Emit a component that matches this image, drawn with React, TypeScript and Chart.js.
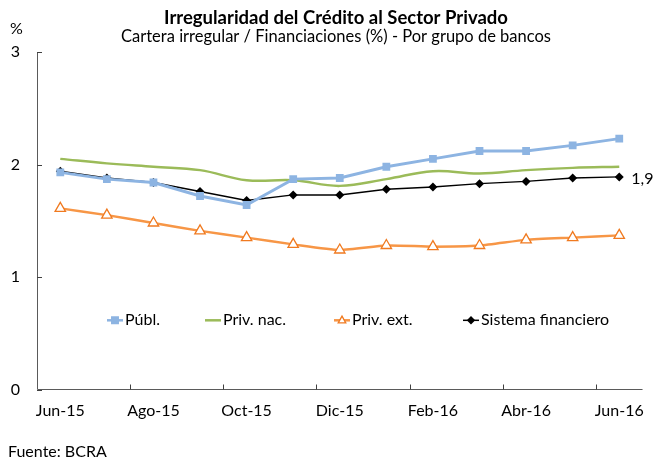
import React, { useEffect, useRef } from 'react';
import { Chart, registerables } from 'chart.js';
Chart.register(...registerables);

const months = ['Jun-15', 'Jul-15', 'Ago-15', 'Sep-15', 'Oct-15', 'Nov-15', 'Dic-15', 'Ene-16', 'Feb-16', 'Mar-16', 'Abr-16', 'May-16', 'Jun-16'];
const publ = [1.93, 1.87, 1.84, 1.72, 1.64, 1.87, 1.88, 1.98, 2.05, 2.12, 2.12, 2.17, 2.23];
const privNac = [2.05, 2.01, 1.98, 1.95, 1.86, 1.86, 1.81, 1.87, 1.94, 1.92, 1.95, 1.97, 1.98];
const privExt = [1.61, 1.55, 1.48, 1.41, 1.35, 1.29, 1.24, 1.28, 1.27, 1.28, 1.33, 1.35, 1.37];
const sistema = [1.94, 1.88, 1.84, 1.76, 1.68, 1.73, 1.73, 1.78, 1.80, 1.83, 1.85, 1.88, 1.89];
const yTickValues = [0, 1, 2, 3];
const seriesNames = ['Públ.', 'Priv. nac.', 'Priv. ext.', 'Sistema financiero'];
const lastLabel = '1,9';
const titleText = 'Irregularidad del Crédito al Sector Privado';
const subtitleText = 'Cartera irregular / Financiaciones (%) - Por grupo de bancos';
const unitText = '%';
const sourceText = 'Fuente: BCRA';

const FONT = 'Lato, "Open Sans", sans-serif';

const decorPlugin = {
  id: 'decor',
  afterDraw(chart: any) {
    const ctx = chart.ctx as CanvasRenderingContext2D;
    const ca = chart.chartArea;
    const xs = chart.scales.x;
    const ys = chart.scales.y;
    ctx.save();
    // axes
    ctx.strokeStyle = '#5a5a5a';
    ctx.lineWidth = 1;
    ctx.beginPath();
    ctx.moveTo(ca.left + 0.5, ca.top);
    ctx.lineTo(ca.left + 0.5, ca.bottom);
    ctx.lineTo(ca.right, ca.bottom);
    ctx.stroke();
    // y ticks (inward)
    ctx.strokeStyle = '#404040';
    yTickValues.forEach((v) => {
      const y = Math.round(ys.getPixelForValue(v)) + 0.5;
      ctx.beginPath();
      ctx.moveTo(ca.left, y);
      ctx.lineTo(ca.left + 5, y);
      ctx.stroke();
    });
    // x ticks at category boundaries every 2 categories
    for (let i = 2; i < months.length; i += 2) {
      const x = Math.round((xs.getPixelForValue(i - 1) + xs.getPixelForValue(i)) / 2) + 0.5;
      ctx.beginPath();
      ctx.moveTo(x, ca.bottom);
      ctx.lineTo(x, ca.bottom - 5);
      ctx.stroke();
    }
    // titles
    ctx.fillStyle = '#000';
    ctx.textAlign = 'center';
    ctx.textBaseline = 'middle';
    ctx.font = `bold 18.5px ${FONT}`;
    ctx.fillText(titleText, 336, 18);
    ctx.font = `16.5px ${FONT}`;
    ctx.fillText(subtitleText, 336, 37);
    ctx.font = `16px ${FONT}`;
    ctx.textAlign = 'left';
    ctx.fillText(unitText, 10, 29);
    ctx.fillText(sourceText, 8, 452);
    // last value label
    const meta = chart.getDatasetMeta(3);
    const lastPt = meta.data[meta.data.length - 1];
    ctx.fillText(lastLabel, lastPt.x + 12, lastPt.y + 2);
    // legend
    const ly = ca.top + (ca.bottom - ca.top) * 0.795;
    const starts = [107, 205, 334, 463];
    chart.data.datasets.forEach((ds: any, i: number) => {
      const x0 = starts[i];
      ctx.strokeStyle = ds.borderColor;
      ctx.lineWidth = Math.min(ds.borderWidth, 2.5);
      ctx.beginPath();
      ctx.moveTo(x0, ly);
      ctx.lineTo(x0 + 16, ly);
      ctx.stroke();
      if (ds.pointStyle && ds.pointRadius > 0) {
        ctx.fillStyle = ds.pointBackgroundColor;
        ctx.strokeStyle = ds.pointBorderColor;
        ctx.lineWidth = ds.pointBorderWidth;
        const r = ds.pointRadius * 0.7;
        ctx.beginPath();
        if (ds.pointStyle === 'rect') {
          const s = r * Math.SQRT1_2;
          ctx.rect(x0 + 8 - s, ly - s, 2 * s, 2 * s);
        } else if (ds.pointStyle === 'rectRot') {
          ctx.moveTo(x0 + 8 - r, ly);
          ctx.lineTo(x0 + 8, ly - r);
          ctx.lineTo(x0 + 8 + r, ly);
          ctx.lineTo(x0 + 8, ly + r);
          ctx.closePath();
        } else if (ds.pointStyle === 'triangle') {
          ctx.moveTo(x0 + 8, ly - r);
          ctx.lineTo(x0 + 8 + r * 0.9, ly + r * 0.6);
          ctx.lineTo(x0 + 8 - r * 0.9, ly + r * 0.6);
          ctx.closePath();
        }
        ctx.fill();
        ctx.stroke();
      }
      ctx.fillStyle = '#000';
      ctx.font = `16px ${FONT}`;
      ctx.textAlign = 'left';
      ctx.textBaseline = 'middle';
      ctx.fillText(seriesNames[i], x0 + 18, ly);
    });
    ctx.restore();
  },
};

export default function App() {
  const ref = useRef<HTMLCanvasElement | null>(null);
  useEffect(() => {
    document.body.style.margin = '0';
    const canvas = ref.current;
    if (!canvas) return;
    const chart = new Chart(canvas, {
      type: 'line',
      data: {
        labels: months,
        datasets: [
          {
            label: seriesNames[0],
            data: publ,
            borderColor: '#8db4e2',
            backgroundColor: '#8db4e2',
            borderWidth: 3,
            pointStyle: 'rect',
            pointRadius: 5.5,
            pointBackgroundColor: '#8db4e2',
            pointBorderColor: '#8db4e2',
            pointBorderWidth: 0,
            tension: 0,
          },
          {
            label: seriesNames[1],
            data: privNac,
            borderColor: '#9bbb59',
            backgroundColor: '#9bbb59',
            borderWidth: 2.5,
            pointStyle: false,
            pointRadius: 0,
            tension: 0.4,
          },
          {
            label: seriesNames[2],
            data: privExt,
            borderColor: '#f79646',
            backgroundColor: '#ffffff',
            borderWidth: 2.5,
            pointStyle: 'triangle',
            pointRadius: 6,
            pointBackgroundColor: '#ffffff',
            pointBorderColor: '#f07a20',
            pointBorderWidth: 1.3,
            tension: 0.2,
          },
          {
            label: seriesNames[3],
            data: sistema,
            borderColor: '#000000',
            backgroundColor: '#000000',
            borderWidth: 1.5,
            pointStyle: 'rectRot',
            pointRadius: 4.5,
            pointBackgroundColor: '#000000',
            pointBorderColor: '#000000',
            pointBorderWidth: 0,
            tension: 0,
          },
        ],
      },
      options: {
        responsive: false,
        animation: false,
        layout: { padding: { top: 52, right: 8, left: 0, bottom: 0 } },
        plugins: { legend: { display: false }, tooltip: { enabled: false }, title: { display: false } },
        scales: {
          x: {
            offset: true,
            grid: { display: false, drawTicks: false },
            border: { display: false },
            ticks: {
              autoSkip: false,
              maxRotation: 0,
              padding: 12,
              color: '#000',
              font: { family: FONT, size: 16 },
              callback: (_v: any, i: number) => (i % 2 === 0 ? months[i] : ''),
            },
            afterFit: (s: any) => { s.height = 69.5; },
          },
          y: {
            min: 0,
            max: 3,
            grid: { display: false, drawTicks: false },
            border: { display: false },
            ticks: {
              stepSize: 1,
              padding: 17,
              color: '#000',
              font: { family: FONT, size: 16 },
            },
            afterFit: (s: any) => { s.width = 37; },
          },
        },
      },
      plugins: [decorPlugin],
    } as any);
    return () => chart.destroy();
  }, []);
  return (
    <div style={{ width: 656, height: 459, background: '#fff' }}>
      <canvas ref={ref} width={656} height={459} />
    </div>
  );
}
